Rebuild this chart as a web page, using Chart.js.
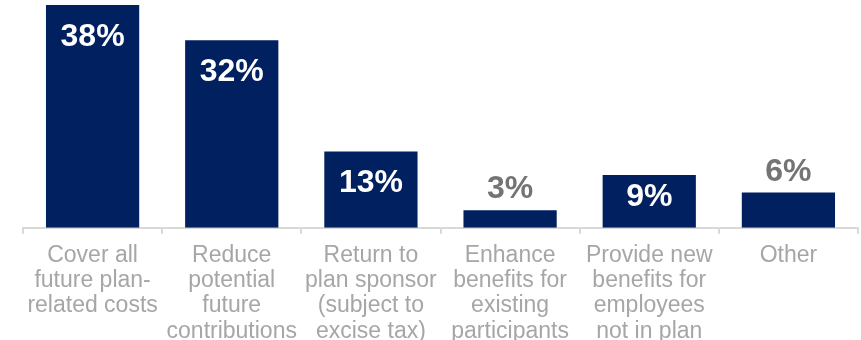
<!DOCTYPE html>
<html>
<head>
<meta charset="utf-8">
<script src="https://cdn.jsdelivr.net/npm/chart.js@4.4.1/dist/chart.umd.min.js"></script>
<style>
    html, body { margin: 0; padding: 0; background: #fff; overflow: hidden; }
    #wrap { position: relative; width: 861px; height: 353px; }
</style>
</head>
<body>
<div id="wrap"><canvas id="usesChart"></canvas></div>
<script>
// Intended uses of surplus assets (% of respondents)
const categories = [
    ['Cover all', 'future plan-', 'related costs'],
    ['Reduce', 'potential', 'future', 'contributions'],
    ['Return to', 'plan sponsor', '(subject to', 'excise tax)'],
    ['Enhance', 'benefits for', 'existing', 'participants'],
    ['Provide new', 'benefits for', 'employees', 'not in plan'],
    ['Other']
];
const shares = [38, 32, 13, 3, 9, 6];
const shareLabels = ['38%', '32%', '13%', '3%', '9%', '6%'];

const colors = {
    bar: '#002060',
    axis: '#d9d9d9',
    category: '#a6a6a6',
    valueOutside: '#747474',
    valueInside: '#ffffff'
};

// Bars tall enough get a white label inside, short ones a grey label above
const INSIDE_MIN = 9;

const valueLabels = {
    id: 'valueLabels',
    afterDatasetsDraw(chart) {
        const ctx = chart.ctx;
        const meta = chart.getDatasetMeta(0);
        ctx.save();
        ctx.font = 'bold 32px "Liberation Sans", Arial, sans-serif';
        ctx.textAlign = 'center';
        meta.data.forEach((bar, i) => {
            const h = bar.base - bar.y;
            if (shares[i] >= INSIDE_MIN) {
                ctx.fillStyle = colors.valueInside;
                ctx.textBaseline = 'middle';
                ctx.fillText(shareLabels[i], bar.x, bar.y + Math.min(32, h / 2 - 4));
            } else {
                ctx.fillStyle = colors.valueOutside;
                ctx.textBaseline = 'alphabetic';
                ctx.fillText(shareLabels[i], bar.x, bar.y - 12);
            }
        });
        ctx.restore();
    }
};

new Chart(document.getElementById('usesChart'), {
    type: 'bar',
    data: {
        labels: categories,
        datasets: [{
            data: shares,
            backgroundColor: colors.bar,
            borderWidth: 0,
            categoryPercentage: 1,
            barPercentage: 0.67
        }]
    },
    options: {
        responsive: true,
        maintainAspectRatio: false,
        animation: false,
        layout: {
            padding: { top: 5, left: 23, right: 3, bottom: 0 }
        },
        plugins: {
            legend: { display: false },
            tooltip: { enabled: false }
        },
        scales: {
            x: {
                grid: {
                    drawOnChartArea: false,
                    drawTicks: true,
                    tickLength: 6,
                    color: colors.axis,
                    lineWidth: 2
                },
                border: {
                    color: colors.axis,
                    width: 2
                },
                ticks: {
                    color: colors.category,
                    autoSkip: false,
                    maxRotation: 0,
                    minRotation: 0,
                    padding: 9,
                    font: {
                        family: '"Liberation Sans", Arial, sans-serif',
                        size: 23,
                        lineHeight: 1.1
                    }
                }
            },
            y: {
                display: false,
                min: 0,
                max: 38
            }
        }
    },
    plugins: [valueLabels]
});
</script>
</body>
</html>
